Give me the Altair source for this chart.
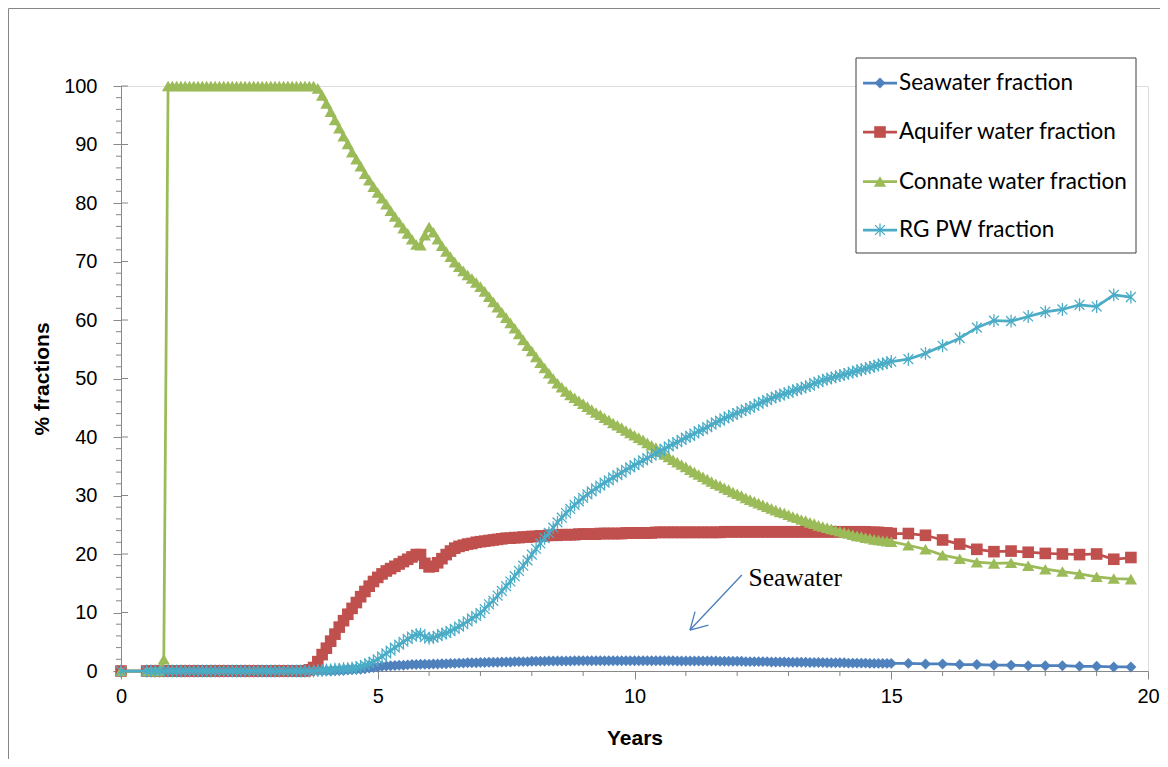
import altair as alt
import pandas as pd

# ---- time grid (years): start point, monthly points 0.5..15, then every 4 months to 19.67
years = [0.0] + [round(0.5 + k / 12, 4) for k in range(175)] + [round(15 + k / 3, 4) for k in range(1, 15)]

seawater = [0.0,
    0, 0, 0, 0, 0, 0, 0, 0, 0, 0, 0, 0,
    0, 0, 0, 0, 0, 0, 0, 0, 0, 0, 0, 0,
    0, 0, 0, 0, 0, 0, 0, 0, 0, 0, 0, 0,
    0, 0, 0, 0, 0, 0, 0, 0, 0.05, 0.1, 0.1, 0.15,
    0.2, 0.25, 0.3, 0.4, 0.5, 0.6, 0.7, 0.8, 0.85, 0.9, 0.95, 1.0,
    1.0, 1.05, 1.1, 1.1, 1.15, 1.15, 1.15, 1.2, 1.2, 1.25, 1.25, 1.3,
    1.3, 1.35, 1.35, 1.4, 1.4, 1.4, 1.45, 1.45, 1.5, 1.5, 1.5, 1.55,
    1.55, 1.55, 1.6, 1.6, 1.6, 1.6, 1.65, 1.65, 1.65, 1.65, 1.7, 1.7,
    1.7, 1.7, 1.7, 1.7, 1.75, 1.75, 1.75, 1.75, 1.75, 1.75, 1.75, 1.75,
    1.75, 1.75, 1.75, 1.75, 1.75, 1.75, 1.75, 1.75, 1.75, 1.75, 1.75, 1.75,
    1.75, 1.75, 1.75, 1.75, 1.7, 1.7, 1.7, 1.7, 1.7, 1.7, 1.7, 1.7,
    1.7, 1.7, 1.65, 1.65, 1.65, 1.65, 1.65, 1.65, 1.6, 1.6, 1.6, 1.6,
    1.6, 1.6, 1.55, 1.55, 1.55, 1.55, 1.5, 1.5, 1.5, 1.5, 1.5, 1.45,
    1.45, 1.45, 1.45, 1.4, 1.4, 1.4, 1.4, 1.4, 1.35, 1.35, 1.35, 1.35,
    1.35, 1.3, 1.3, 1.3, 1.3, 1.3, 1.3,
    1.3, 1.2, 1.2, 1.1, 1.1, 1.0, 1.0, 0.9, 0.9, 0.9, 0.8, 0.8, 0.7, 0.7]

aquifer = [0.0,
    0, 0, 0, 0, 0, 0, 0, 0, 0, 0, 0, 0,
    0, 0, 0, 0, 0, 0, 0, 0, 0, 0, 0, 0,
    0, 0, 0, 0, 0, 0, 0, 0, 0, 0, 0, 0,
    0, 0, 0.2, 0.6, 1.6, 2.8, 3.9, 5.1, 6.3, 7.5, 8.6, 9.7,
    10.7, 11.7, 12.7, 13.6, 14.5, 15.3, 16.0, 16.6, 17.1, 17.5, 17.9, 18.3,
    18.7, 19.1, 19.5, 19.9, 19.9, 18.4, 17.8, 17.9, 18.5, 19.2, 19.9, 20.5,
    21.0, 21.3, 21.5, 21.7, 21.8, 22.0, 22.1, 22.2, 22.3, 22.4, 22.5, 22.6,
    22.7, 22.7, 22.8, 22.8, 22.9, 22.9, 23.0, 23.0, 23.1, 23.1, 23.2, 23.2,
    23.2, 23.3, 23.3, 23.3, 23.3, 23.4, 23.4, 23.4, 23.4, 23.4, 23.5, 23.5,
    23.5, 23.5, 23.5, 23.5, 23.6, 23.6, 23.6, 23.6, 23.6, 23.6, 23.6, 23.7,
    23.7, 23.7, 23.7, 23.7, 23.7, 23.7, 23.7, 23.7, 23.7, 23.7, 23.7, 23.7,
    23.7, 23.7, 23.7, 23.8, 23.8, 23.8, 23.8, 23.8, 23.8, 23.8, 23.8, 23.8,
    23.8, 23.8, 23.8, 23.8, 23.8, 23.8, 23.8, 23.8, 23.8, 23.8, 23.8, 23.8,
    23.8, 23.8, 23.8, 23.8, 23.8, 23.8, 23.8, 23.8, 23.8, 23.8, 23.8, 23.8,
    23.8, 23.7, 23.7, 23.7, 23.6, 23.6, 23.5,
    23.5, 23.2, 22.4, 21.7, 20.8, 20.4, 20.5, 20.3, 20.1, 20.0, 19.9, 20.0, 19.1, 19.4]

connate = [0.0,
    0, 0, 0, 0, 2, 100, 100, 100, 100, 100, 100, 100,
    100, 100, 100, 100, 100, 100, 100, 100, 100, 100, 100, 100,
    100, 100, 100, 100, 100, 100, 100, 100, 100, 100, 100, 100,
    100, 100, 100, 100, 99.6, 98.4, 97.0, 95.6, 94.2, 92.8, 91.4, 90.1,
    88.7, 87.5, 86.3, 85.0, 83.9, 82.8, 81.8, 80.8, 79.8, 78.7, 77.7, 76.7,
    75.7, 74.8, 73.8, 72.9, 72.8, 74.5, 75.9, 75.0, 73.8, 72.7, 71.7, 70.8,
    69.9, 69.1, 68.4, 67.7, 67.1, 66.4, 65.7, 64.9, 64.0, 63.1, 62.2, 61.3,
    60.4, 59.5, 58.6, 57.6, 56.6, 55.6, 54.7, 53.7, 52.7, 51.8, 50.9, 50.0,
    49.2, 48.5, 47.8, 47.2, 46.7, 46.2, 45.7, 45.2, 44.7, 44.2, 43.8, 43.3,
    42.9, 42.4, 42.0, 41.6, 41.1, 40.7, 40.3, 39.9, 39.5, 39.0, 38.6, 38.2,
    37.5, 37.0, 36.6, 36.1, 35.7, 35.3, 34.9, 34.4, 34.0, 33.6, 33.2, 32.8,
    32.4, 32.0, 31.7, 31.3, 31.0, 30.6, 30.3, 30.0, 29.6, 29.3, 29.0, 28.7,
    28.4, 28.1, 27.8, 27.5, 27.2, 27.0, 26.7, 26.4, 26.2, 25.9, 25.7, 25.4,
    25.2, 24.9, 24.7, 24.5, 24.3, 24.1, 23.9, 23.7, 23.5, 23.3, 23.1, 23.0,
    22.8, 22.7, 22.5, 22.4, 22.3, 22.2, 22.1,
    21.5, 20.8, 19.8, 19.2, 18.6, 18.4, 18.5, 18.0, 17.4, 17.0, 16.6, 16.1, 15.8, 15.7]

rgpw = [0.0,
    0, 0, 0, 0, 0, 0, 0, 0, 0, 0, 0, 0,
    0, 0, 0, 0, 0, 0, 0, 0, 0, 0, 0, 0,
    0, 0, 0, 0, 0, 0, 0, 0, 0, 0, 0, 0,
    0, 0, 0, 0, 0.1, 0.1, 0.2, 0.2, 0.3, 0.3, 0.4, 0.4,
    0.5, 0.6, 0.8, 1.0, 1.3, 1.6, 2.0, 2.5, 3.0, 3.5, 4.0, 4.5,
    5.0, 5.5, 5.9, 6.2, 6.3, 5.8, 5.6, 5.7, 6.0, 6.3, 6.5, 6.8,
    7.2, 7.6, 8.0, 8.5, 9.0, 9.4, 9.9, 10.6, 11.4, 12.0, 12.9, 13.7,
    14.5, 15.3, 16.2, 17.1, 18.0, 18.9, 19.9, 20.9, 21.8, 22.7, 23.6, 24.5,
    25.4, 26.2, 27.0, 27.7, 28.4, 29.0, 29.6, 30.2, 30.7, 31.2, 31.7, 32.2,
    32.6, 33.1, 33.5, 33.9, 34.4, 34.8, 35.2, 35.6, 36.0, 36.4, 36.8, 37.2,
    37.6, 38.0, 38.4, 38.8, 39.1, 39.5, 39.9, 40.2, 40.6, 41.0, 41.3, 41.7,
    42.1, 42.5, 42.8, 43.2, 43.5, 43.8, 44.1, 44.4, 44.7, 45.0, 45.3, 45.7,
    46.0, 46.3, 46.6, 46.9, 47.1, 47.4, 47.6, 47.9, 48.1, 48.3, 48.6, 48.8,
    49.2, 49.4, 49.7, 49.9, 50.1, 50.3, 50.5, 50.7, 50.9, 51.1, 51.3, 51.5,
    51.7, 51.9, 52.1, 52.3, 52.5, 52.7, 52.9,
    53.3, 54.3, 55.6, 56.9, 58.7, 59.9, 59.8, 60.6, 61.4, 61.8, 62.6, 62.3, 64.3, 63.9]

series_names = ["Seawater fraction", "Aquifer water fraction", "Connate water fraction", "RG PW fraction"]
series_values = [seawater, aquifer, connate, rgpw]
series_colors = ["#4F81BD", "#C0504D", "#9BBB59", "#4BACC6"]
ASTERISK = "M-0.8,-0.8L0.8,0.8M-0.8,0.8L0.8,-0.8M0,-1.05L0,1.05"
series_shapes = ["diamond", "square", "triangle-up", ASTERISK]
series_sizes = [120, 135, 150, 150]

x_major = [0, 5, 10, 15, 20]
x_minor = [1, 2, 3, 4, 6, 7, 8, 9, 11, 12, 13, 14, 16, 17, 18, 19]
y_major = list(range(0, 101, 10))
y_minor = [v for v in range(2, 100, 2) if v % 10 != 0]

annotation_text = "Seawater"
annotation_pos = (12.22, 14.5)
arrow_segments = {"x": [12.09, 11.08, 11.08], "y": [16.4, 7.0, 7.0],
                  "x2": [11.08, 11.18, 11.44], "y2": [7.0, 10.15, 7.85]}

W, H = 1027, 585
AXIS_GRAY = "#868686"
FONT = "Lato"

xscale = alt.Scale(domain=[0, 20], nice=False, zero=False)
yscale = alt.Scale(domain=[0, 100], nice=False)
xaxis = alt.Axis(values=x_major, title="Years", tickSize=8, labelPadding=7, grid=False,
                 labelFlush=False, labelFontSize=20, titleFontSize=21, titleFontWeight="bold",
                 titlePadding=21, format="d")
yaxis = alt.Axis(values=y_major, title="% fractions", tickSize=8, labelPadding=16, grid=False,
                 labelFontSize=20, titleFontSize=21, titleFontWeight="bold",
                 titlePadding=11, format="d")

X = lambda f="t": alt.X(f"{f}:Q", scale=xscale, axis=xaxis)
Y = lambda f="v": alt.Y(f"{f}:Q", scale=yscale, axis=yaxis)

layers = []

# outer chart border (Excel chart area)
layers.append(alt.Chart(pd.DataFrame({"a": [0]})).mark_rect(
    fill="white", fillOpacity=0, stroke=AXIS_GRAY, strokeWidth=1).encode(
    x=alt.value(-112.5), x2=alt.value(1100), y=alt.value(-77.5), y2=alt.value(720)))

# minor ticks and crossing part of major y ticks
layers.append(alt.Chart(pd.DataFrame({"t": x_minor})).mark_rule(color=AXIS_GRAY, strokeWidth=1).encode(
    x=X(), y=alt.value(H), y2=alt.value(H + 5)))
layers.append(alt.Chart(pd.DataFrame({"v": y_minor})).mark_rule(color=AXIS_GRAY, strokeWidth=1).encode(
    y=Y(), x=alt.value(-5), x2=alt.value(0)))
layers.append(alt.Chart(pd.DataFrame({"v": y_major})).mark_rule(color=AXIS_GRAY, strokeWidth=1).encode(
    y=Y(), x=alt.value(0), x2=alt.value(7)))

# data series: line + markers, drawn in series order
for name, vals, col, shp, sz in zip(series_names, series_values, series_colors, series_shapes, series_sizes):
    df = pd.DataFrame({"t": years, "v": vals})
    layers.append(alt.Chart(df).mark_line(color=col, strokeWidth=2.75).encode(x=X(), y=Y()))
    if shp == ASTERISK:
        pm = alt.Chart(df).mark_point(shape=shp, filled=False, size=sz, color=col, opacity=1, strokeWidth=1.3)
    else:
        pm = alt.Chart(df).mark_point(shape=shp, filled=True, size=sz, color=col, opacity=1)
    layers.append(pm.encode(x=X(), y=Y()))

# annotation
layers.append(alt.Chart(pd.DataFrame(arrow_segments)).mark_rule(color="#4A7EBB", strokeWidth=1.3).encode(
    x=alt.X("x:Q", scale=xscale, axis=xaxis), y=alt.Y("y:Q", scale=yscale, axis=yaxis),
    x2="x2:Q", y2="y2:Q"))
layers.append(alt.Chart(pd.DataFrame({"t": [annotation_pos[0]], "v": [annotation_pos[1]], "s": [annotation_text]}))
              .mark_text(font="Liberation Serif", fontSize=25.5, align="left", baseline="alphabetic", color="black")
              .encode(x=X(), y=Y(), text="s:N"))

# legend
layers.append(alt.Chart(pd.DataFrame({"a": [0]})).mark_rect(
    fill="white", stroke="#3f3f3f", strokeWidth=1).encode(
    x=alt.value(735), x2=alt.value(1015), y=alt.value(-28), y2=alt.value(167)))
legend_y = [-3, 46, 95.5, 144]
for name, col, shp, sz, ly in zip(series_names, series_colors, series_shapes, series_sizes, legend_y):
    one = pd.DataFrame({"s": [name]})
    layers.append(alt.Chart(one).mark_rule(color=col, strokeWidth=2.75).encode(
        x=alt.value(742), x2=alt.value(776), y=alt.value(ly)))
    if shp == ASTERISK:
        lm = alt.Chart(one).mark_point(shape=shp, filled=False, size=sz, color=col, opacity=1, strokeWidth=1.3)
    else:
        lm = alt.Chart(one).mark_point(shape=shp, filled=True, size=sz, color=col, opacity=1)
    layers.append(lm.encode(x=alt.value(759), y=alt.value(ly)))
    layers.append(alt.Chart(one).mark_text(font=FONT, fontSize=22.5, align="left", baseline="middle", color="black")
                  .encode(x=alt.value(778), y=alt.value(ly), text="s:N"))

chart = alt.layer(*layers).properties(
    width=W, height=H,
    autosize=alt.AutoSizeParams(type="none"),
    padding={"left": 113, "top": 78, "right": 12, "bottom": 88},
).configure_view(strokeWidth=0).configure_axis(
    grid=False, domainColor=AXIS_GRAY, tickColor=AXIS_GRAY, labelColor="black", titleColor="black",
    labelFont=FONT, titleFont=FONT, domainWidth=1, tickWidth=1
).configure(background="white")

chart.save("out.html", embed_options={"renderer": "svg", "actions": False})
